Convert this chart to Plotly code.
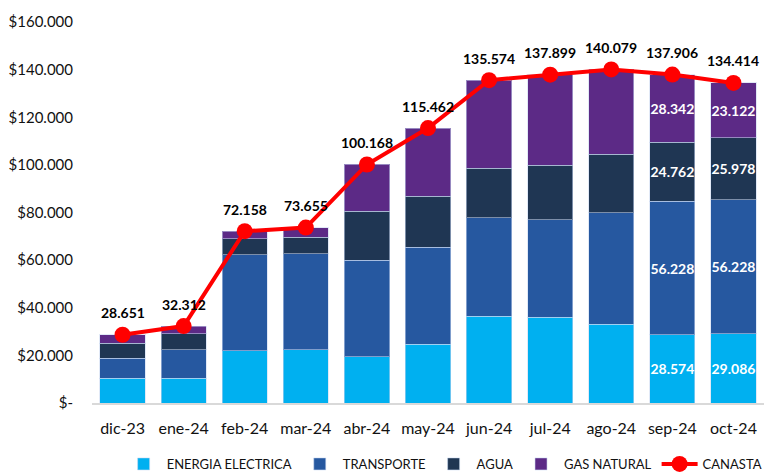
import plotly.graph_objects as go

meses = ["dic-23", "ene-24", "feb-24", "mar-24", "abr-24", "may-24",
         "jun-24", "jul-24", "ago-24", "sep-24", "oct-24"]
energia = [10500, 10500, 21900, 22300, 19500, 24700, 36500, 36100, 33100, 28574, 29086]
transporte = [8300, 11800, 40400, 40400, 40400, 40800, 41300, 40900, 46900, 56228, 56228]
agua = [6300, 6800, 6700, 7000, 20600, 21300, 20800, 22900, 24500, 24762, 25978]
gas = [3551, 3212, 3158, 3955, 19668, 28662, 36974, 37999, 35579, 28342, 23122]
canasta = [28651, 32312, 72158, 73655, 100168, 115462, 135574, 137899, 140079, 137906, 134414]
labeled_months = ["sep-24", "oct-24"]

y_ticks = [0, 20000, 40000, 60000, 80000, 100000, 120000, 140000, 160000]
y_ticktext = ["$-", "$20.000", "$40.000", "$60.000", "$80.000", "$100.000",
              "$120.000", "$140.000", "$160.000"]


def fmt(v):
    return f"{v:,}".replace(",", ".")


def seg_text(vals):
    return [f"<b>{fmt(v)}</b>" if m in labeled_months else "" for m, v in zip(meses, vals)]


FONT = "Lato"
series = [
    ("ENERGIA ELECTRICA", energia, "#00B0F0"),
    ("TRANSPORTE", transporte, "#2658A0"),
    ("AGUA", agua, "#1F3653"),
    ("GAS NATURAL", gas, "#5C2A86"),
]

fig = go.Figure()
for name, vals, color in series:
    fig.add_trace(go.Bar(
        x=meses, y=vals, name=name,
        marker=dict(color=color, line=dict(color="rgba(200,215,240,0.55)", width=1)),
        text=seg_text(vals), textposition="inside", insidetextanchor="middle",
        textangle=0,
        textfont=dict(family=FONT, size=14, color="white"),
        hoverinfo="x+y+name",
    ))

fig.add_trace(go.Scatter(
    x=meses, y=canasta, name="CANASTA", mode="lines+markers",
    line=dict(color="#FF0000", width=4),
    marker=dict(color="#FF0000", size=16),
))

for m, v in zip(meses, canasta):
    fig.add_annotation(x=m, y=v, text=f"<b>{fmt(v)}</b>", showarrow=False,
                       yshift=22, font=dict(family=FONT, size=14, color="black"))

fig.update_layout(
    width=766, height=472,
    margin=dict(l=92, r=2, t=22, b=69, autoexpand=False),
    paper_bgcolor="white", plot_bgcolor="white",
    barmode="stack", bargap=0.26,
    uniformtext=dict(minsize=14, mode="show"),
    showlegend=True,
    legend=dict(orientation="h", x=0.524, xanchor="center",
                yref="container", y=0.017, yanchor="middle",
                font=dict(family=FONT, size=13, color="#111"),
                itemwidth=36, traceorder="normal"),
    font=dict(family=FONT, color="#222"),
)
fig.update_xaxes(
    range=[-0.5, len(meses) - 0.5], automargin=False,
    showgrid=False, showline=True, linecolor="#D9D9D9", linewidth=2,
    tickfont=dict(family=FONT, size=16, color="#111"), ticks="",
    ticklabelstandoff=10,
)
fig.update_yaxes(
    range=[0, 160000], tickvals=y_ticks, ticktext=y_ticktext, automargin=False,
    showgrid=False, zeroline=False, showline=False,
    tickfont=dict(family=FONT, size=15, color="#111"), ticklabelstandoff=18,
)

fig.write_html("out.html", config={"displayModeBar": False},
               post_script="document.body.style.margin='0';")
